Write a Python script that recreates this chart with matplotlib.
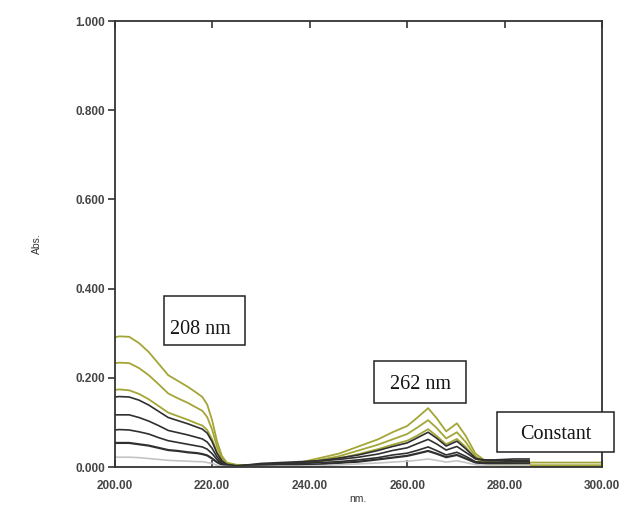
import matplotlib
matplotlib.use("Agg")
import matplotlib.pyplot as plt
from matplotlib.patches import Rectangle

# ---- data ----
wl_short = [200, 201, 203, 205, 207, 209, 211, 213, 215, 217, 218, 219, 220, 221, 222, 223, 225]
wl_long_olive = [230, 234, 238, 242, 246, 250, 254, 257, 260, 262, 264.3, 266, 268, 270.2, 272, 274, 276, 278, 282, 285, 290, 300]
wl_long_black = [230, 234, 238, 242, 246, 250, 254, 257, 260, 262, 264.3, 266, 268, 270.2, 272, 274, 276, 278, 282, 285]

olive1_s = [.291, .293, .292, .278, .258, .232, .206, .193, .180, .165, .157, .140, .105, .058, .025, .010, .005]
olive2_s = [.233, .234, .233, .222, .206, .186, .165, .154, .144, .132, .126, .112, .084, .046, .020, .008, .004]
olive3_s = [.173, .174, .172, .164, .152, .137, .122, .114, .106, .097, .093, .083, .062, .034, .015, .006, .003]
black1_s = [.157, .158, .157, .150, .139, .125, .111, .104, .097, .089, .085, .076, .057, .031, .014, .006, .003]
black2_s = [.117, .117, .117, .111, .103, .093, .082, .077, .072, .066, .063, .056, .042, .023, .010, .004, .002]
black3_s = [.083, .084, .083, .079, .074, .066, .059, .055, .051, .047, .045, .040, .030, .017, .007, .003, .001]
black4_s = [.054, .054, .054, .051, .048, .043, .038, .036, .033, .031, .029, .026, .019, .011, .005, .002, .001]
grey_s   = [.022, .022, .022, .021, .019, .017, .015, .014, .013, .012, .012, .010, .008, .004, .002, .001, .000]

olive1_l = [.004, .006, .010, .020, .030, .046, .062, .078, .092, .110, .132, .110, .080, .098, .070, .030, .014, .011, .010, .010, .010, .010]
olive2_l = [.003, .005, .008, .016, .024, .037, .050, .062, .074, .088, .105, .088, .064, .078, .056, .024, .010, .006, .004, .004, .004, .004]
olive3_l = [.003, .004, .006, .013, .019, .029, .040, .050, .059, .070, .085, .070, .051, .063, .045, .019, .008, .004, .002, .001, .001, .001]
black1_l = [.006, .008, .010, .014, .020, .027, .037, .046, .054, .065, .078, .065, .047, .058, .041, .020, .014, .014, .014, .014]
black2_l = [.008, .010, .012, .014, .017, .022, .029, .037, .043, .052, .062, .052, .038, .046, .033, .018, .016, .016, .018, .018]
black3_l = [.005, .006, .008, .010, .012, .016, .021, .027, .031, .037, .045, .037, .027, .033, .024, .012, .010, .010, .012, .012]
black4_l = [.003, .004, .005, .006, .009, .012, .017, .021, .025, .030, .036, .030, .022, .027, .019, .010, .008, .008, .008, .008]
grey_l   = [.001, .002, .002, .003, .005, .007, .009, .011, .013, .015, .018, .015, .011, .014, .010, .005, .004, .004, .004, .004]

x_ticks = [200, 220, 240, 260, 280, 300]
y_ticks = [0.0, 0.2, 0.4, 0.6, 0.8, 1.0]

annot_texts = ["208 nm", "262 nm", "Constant"]

OLIVE = "#a3a636"
DARK = "#303030"
GREY = "#c4c4c4"

fig = plt.figure(figsize=(6.4, 5.09), dpi=100)
ax = fig.add_axes([0.179, 0.0825, 0.762, 0.876])

series = [
    (olive1_s, olive1_l, wl_long_olive, OLIVE, 1.3),
    (olive2_s, olive2_l, wl_long_olive, OLIVE, 1.3),
    (olive3_s, olive3_l, wl_long_olive, OLIVE, 1.3),
    (black1_s, black1_l, wl_long_black, DARK, 1.2),
    (black2_s, black2_l, wl_long_black, DARK, 1.2),
    (black3_s, black3_l, wl_long_black, DARK, 1.2),
    (black4_s, black4_l, wl_long_black, DARK, 1.6),
    (grey_s, grey_l, wl_long_black, GREY, 1.2),
]
for s_vals, l_vals, wl_l, col, lw in series:
    xs = list(wl_short) + list(wl_l)
    ys = list(s_vals) + list(l_vals)
    ax.plot(xs, ys, color=col, lw=lw, solid_joinstyle="round")

ax.set_xlim(200, 300)
ax.set_ylim(0, 1.0)
ax.set_xticks(x_ticks)
ax.set_xticklabels([f"{v:.2f}" for v in x_ticks])
ax.set_yticks(y_ticks)
ax.set_yticklabels([f"{v:.3f}" for v in y_ticks])

for t in ax.get_xticklabels() + ax.get_yticklabels():
    t.set_fontfamily("Liberation Sans")
    t.set_fontsize(8.5)
    t.set_fontweight("bold")
    t.set_color("#454545")

ax.tick_params(axis="x", direction="in", top=True, bottom=True, length=5, width=1.2,
               color="#333333", pad=9)
ax.tick_params(axis="y", direction="out", left=True, right=False, length=5, width=1.2,
               color="#333333", pad=2)
for sp in ax.spines.values():
    sp.set_color("#333333")
    sp.set_linewidth(1.3)

ax.set_xlabel("nm.", fontfamily="Liberation Sans", fontsize=7.5, color="#333333", labelpad=2)
ax.set_ylabel("Abs.", fontfamily="Liberation Sans", fontsize=7.5, color="#333333", labelpad=24)

# annotation boxes (layout positions in data units): box origin, width, height, text centre
boxes = [
    ((210.2, 0.274), 16.6, 0.109, (217.6, 0.309)),
    ((253.2, 0.143), 18.9, 0.095, (262.65, 0.186)),
    ((278.5, 0.034), 24.0, 0.089, (290.5, 0.074)),
]
for (xy, w, h, tc), txt in zip(boxes, annot_texts):
    ax.add_patch(Rectangle(xy, w, h, fc="white", ec="#222222", lw=1.1, clip_on=False, zorder=5))
    ax.text(tc[0], tc[1], txt, fontfamily="Liberation Serif",
            fontsize=14.5, color="#151515", ha="center", va="center", zorder=6, clip_on=False)

fig.savefig("out.png", dpi=100)
